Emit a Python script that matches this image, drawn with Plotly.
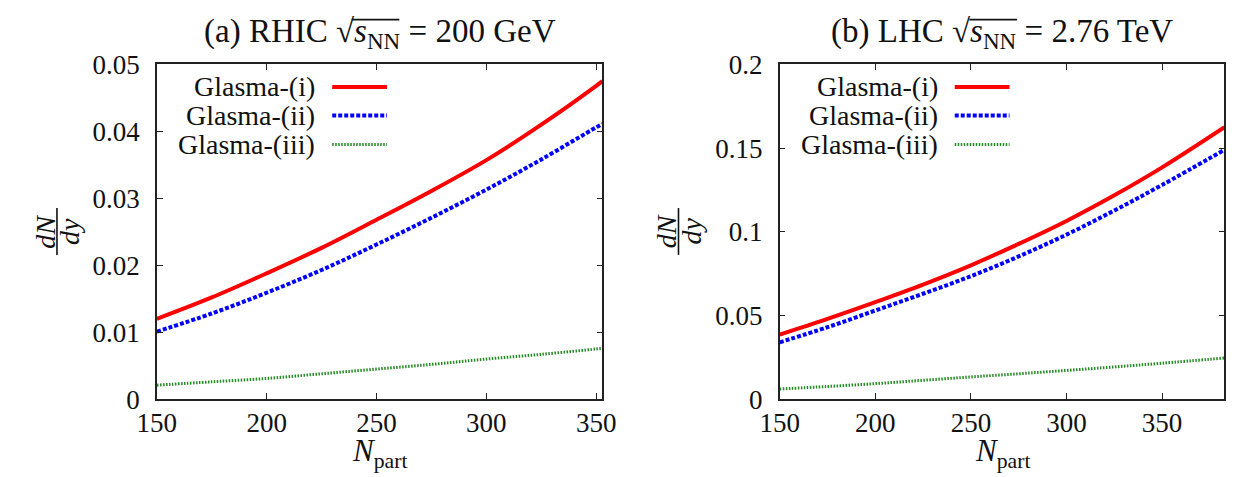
import plotly.graph_objects as go

# ---------------- data ----------------
npart_rhic = [150, 175, 200, 225, 250, 275, 300, 325, 350, 352.8]
rhic_i   = [0.0120, 0.0152, 0.0188, 0.0226, 0.0268, 0.0311, 0.0357, 0.0410, 0.0468, 0.0475]
rhic_ii  = [0.0101, 0.0128, 0.0159, 0.0193, 0.0231, 0.0271, 0.0313, 0.0358, 0.0406, 0.0411]
rhic_iii = [0.0021, 0.0026, 0.0031, 0.0038, 0.0045, 0.0052, 0.0060, 0.0067, 0.0075, 0.0076]

npart_lhc = [150, 175, 200, 225, 250, 275, 300, 325, 350, 382.6]
lhc_i   = [0.0386, 0.0480, 0.0580, 0.0685, 0.0800, 0.0928, 0.1065, 0.1218, 0.1385, 0.1625]
lhc_ii  = [0.0340, 0.0430, 0.0530, 0.0630, 0.0735, 0.0853, 0.0983, 0.1127, 0.1280, 0.1490]
lhc_iii = [0.0061, 0.0076, 0.0093, 0.0113, 0.0133, 0.0152, 0.0172, 0.0193, 0.0215, 0.0246]

series_names = ["Glasma-(i)", "Glasma-(ii)", "Glasma-(iii)"]

x_ticks = [150, 200, 250, 300, 350]
rhic_yticks = [0, 0.01, 0.02, 0.03, 0.04, 0.05]
rhic_yticktext = ["0", "0.01", "0.02", "0.03", "0.04", "0.05"]
lhc_yticks = [0, 0.05, 0.1, 0.15, 0.2]
lhc_yticktext = ["0", "0.05", "0.1", "0.15", "0.2"]

# ---------------- styles ----------------
W, H = 1244, 477
FONT = "Liberation Serif"
styles = [
    dict(color="#ff0000", width=4, dash="solid"),
    dict(color="#0000ff", width=4, dash="4px,2px"),
    dict(color="#228B22", width=3, dash="1.5px,1.5px"),
]

def px(x):
    return x / W

def py(y):
    return 1 - y / H

fig = go.Figure()

for ser, st in zip([rhic_i, rhic_ii, rhic_iii], styles):
    fig.add_trace(go.Scatter(x=npart_rhic, y=ser, mode="lines", line=dict(shape="spline", **st),
                             xaxis="x", yaxis="y", showlegend=False, hoverinfo="skip"))
for ser, st in zip([lhc_i, lhc_ii, lhc_iii], styles):
    fig.add_trace(go.Scatter(x=npart_lhc, y=ser, mode="lines", line=dict(shape="spline", **st),
                             xaxis="x2", yaxis="y2", showlegend=False, hoverinfo="skip"))

axis_common = dict(showline=True, linecolor="#222", linewidth=1.5, mirror="ticks",
                   ticks="inside", ticklen=6, tickcolor="#222", tickwidth=1,
                   showgrid=False, zeroline=False,
                   tickfont=dict(family=FONT, size=27, color="#111"))

ydom = [py(410), py(52.7)]
fig.update_layout(
    width=W, height=H, margin=dict(l=0, r=0, t=0, b=0),
    paper_bgcolor="white", plot_bgcolor="white", showlegend=False,
    xaxis=dict(domain=[px(140.7), px(598.7)], range=[150, 352.8], tickvals=x_ticks,
               anchor="y", ticklabelstandoff=-1, **axis_common),
    yaxis=dict(domain=ydom, range=[0, 0.05], tickvals=rhic_yticks, ticktext=rhic_yticktext,
               anchor="x", ticklabelstandoff=10, **axis_common),
    xaxis2=dict(domain=[px(781), px(1238.3)], range=[150, 382.6], tickvals=x_ticks,
                anchor="y2", ticklabelstandoff=-1, **axis_common),
    yaxis2=dict(domain=ydom, range=[0, 0.2], tickvals=lhc_yticks, ticktext=lhc_yticktext,
                anchor="x2", ticklabelstandoff=10, **axis_common),
)

annotations = []
shapes = []

# legends (text right-aligned, then line sample)
legend_rows = [76.7, 107.3, 138.3]
for text_right, samp0, samp1 in [(305.7, 321, 377.3), (945.7, 961, 1017.3)]:
    for name, st, yy in zip(series_names, styles, legend_rows):
        annotations.append(dict(x=px(text_right), y=py(yy), xref="paper", yref="paper",
                                text=name, showarrow=False, xanchor="right", yanchor="middle",
                                font=dict(family=FONT, size=28, color="#111")))
        shapes.append(dict(type="line", xref="paper", yref="paper",
                           x0=px(samp0), x1=px(samp1), y0=py(yy), y1=py(yy),
                           line=dict(color=st["color"], width=st["width"], dash=st["dash"])))

# titles (with an overline for the radical)
titles = [("(a) RHIC √<i>s</i><sub>NN</sub> = 200 GeV", 369.7, 341.0, 390.0),
          ("(b) LHC √<i>s</i><sub>NN</sub> = 2.76 TeV", 1009.7, 976.0, 1025.0)]
for t, cx, ox0, ox1 in titles:
    annotations.append(dict(x=px(cx), y=py(20), xref="paper", yref="paper", text=t,
                            showarrow=False, xanchor="center", yanchor="middle",
                            font=dict(family=FONT, size=33, color="#111")))
    shapes.append(dict(type="line", xref="paper", yref="paper", layer="above",
                       x0=px(ox0), x1=px(ox1), y0=py(5), y1=py(5),
                       line=dict(color="#111", width=1.8)))

# x-axis titles
for cx in [369.7, 1009.7]:
    annotations.append(dict(x=px(cx), y=py(444), xref="paper", yref="paper",
                            text="<i>N</i><sub>part</sub>", showarrow=False,
                            xanchor="center", yanchor="top",
                            font=dict(family=FONT, size=31, color="#111")))

# y-axis titles: dN/dy fraction (rotated)
for bx in [38, 677]:
    annotations.append(dict(x=px(bx - 12), y=py(231), xref="paper", yref="paper",
                            text="<i>dN</i>", showarrow=False, textangle=-90,
                            xanchor="center", yanchor="middle",
                            font=dict(family=FONT, size=28, color="#111")))
    annotations.append(dict(x=px(bx + 13), y=py(231), xref="paper", yref="paper",
                            text="<i>dy</i>", showarrow=False, textangle=-90,
                            xanchor="center", yanchor="middle",
                            font=dict(family=FONT, size=28, color="#111")))
    shapes.append(dict(type="line", xref="paper", yref="paper",
                       x0=px(bx), x1=px(bx), y0=py(206), y1=py(256),
                       line=dict(color="#111", width=1.6)))

fig.update_layout(annotations=annotations, shapes=shapes)
fig.write_html("out.html", config={"displayModeBar": False},
               post_script="document.body.style.margin='0';document.body.style.overflow='hidden';")
